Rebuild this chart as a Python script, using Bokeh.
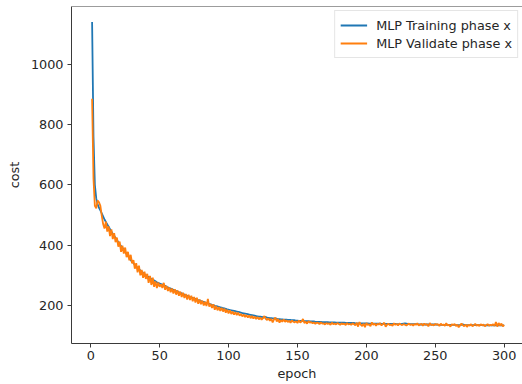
from bokeh.plotting import figure
from bokeh.models import Range1d, FixedTicker, Span, Legend, LegendItem
from bokeh.embed import file_html
from bokeh.resources import INLINE

train_cost = [
    1140, 760, 600, 555, 535, 524, 515, 505, 495, 485,
    477, 469, 461, 453, 445, 438, 431, 424, 417, 410,
    403, 397, 391, 385, 378, 371, 364, 358, 351, 345,
    340, 335, 330, 325, 320, 316, 312, 308, 304, 300,
    297, 294, 291, 288, 285, 283, 280, 277, 275, 273,
    271, 269, 267, 265, 262, 260, 258, 256, 254, 252,
    250, 248, 246, 244, 242, 240, 238, 236, 234, 232,
    230, 228, 226, 225, 223, 222, 220, 218, 217, 215,
    213, 212, 210, 208, 207, 205, 204, 202, 201, 199,
    198, 197, 195, 194, 193, 191, 190, 189, 187, 186,
    185, 184, 183, 182, 181, 180, 179, 178, 176, 175,
    174, 173, 172, 171, 170, 169, 168, 167, 166, 165,
    164, 163, 163, 162, 161, 161, 162, 160, 159, 158,
    158, 157, 157, 156, 156, 155, 155, 154, 154, 153,
    153, 153, 152, 152, 152, 151, 151, 151, 150, 150,
    149, 149, 149, 149, 148, 148, 148, 148, 147, 147,
    147, 147, 146, 146, 146, 146, 146, 145, 145, 145,
    145, 145, 144, 144, 144, 144, 144, 143, 143, 143,
    143, 143, 143, 143, 142, 142, 142, 142, 142, 142,
    142, 141, 141, 141, 141, 141, 141, 141, 141, 141,
    141, 140, 140, 140, 140, 140, 140, 140, 140, 140,
    139, 139, 139, 139, 139, 139, 139, 139, 139, 139,
    139, 138, 138, 138, 138, 139, 140, 141, 140, 139,
    138, 138, 138, 138, 138, 138, 138, 137, 137, 137,
    137, 137, 137, 137, 137, 137, 137, 137, 137, 137,
    137, 136, 136, 136, 136, 136, 136, 136, 136, 136,
    136, 136, 136, 136, 135, 135, 135, 135, 136, 137,
    136, 135, 135, 135, 135, 135, 135, 135, 135, 135,
    135, 135, 135, 135, 134, 134, 134, 134, 134, 134,
    134, 134, 134, 134, 134, 134, 134, 134, 134, 134,
]

valid_cost = [
    885, 620, 530, 522, 548, 542, 530, 498, 470, 455,
    478, 445, 462, 430, 452, 420, 440, 410, 425, 395,
    412, 378, 398, 372, 392, 360, 378, 350, 368, 340,
    350, 322, 340, 310, 332, 300, 318, 292, 312, 288,
    305, 275, 298, 268, 292, 262, 280, 258, 276, 262,
    270, 258, 275, 252, 265, 248, 260, 244, 256, 240,
    254, 236, 250, 232, 246, 228, 242, 225, 238, 220,
    236, 218, 232, 214, 228, 210, 226, 206, 220, 204,
    216, 200, 212, 198, 222, 196, 205, 192, 204, 186,
    198, 184, 195, 182, 192, 180, 190, 176, 186, 174,
    184, 172, 180, 170, 178, 168, 176, 166, 172, 164,
    170, 162, 168, 160, 167, 158, 165, 157, 163, 155,
    162, 154, 160, 153, 158, 165, 156, 152, 157, 149,
    156, 144, 154, 160, 147, 155, 143, 152, 146, 154,
    146, 151, 145, 149, 143, 150, 146, 144, 148, 142,
    150, 144, 147, 155, 142, 146, 140, 148, 143, 145,
    141, 144, 139, 143, 142, 138, 144, 140, 141, 137,
    142, 139, 141, 136, 143, 138, 140, 137, 142, 139,
    136, 141, 138, 140, 135, 142, 137, 139, 136, 141,
    138, 134, 143, 130, 145, 136, 132, 140, 128, 142,
    135, 138, 131, 144, 136, 140, 133, 139, 137, 141,
    134, 138, 143, 130, 136, 140, 135, 137, 133, 141,
    136, 139, 134, 140, 137, 135, 138, 136, 134, 137,
    140, 135, 138, 133, 139, 136, 141, 134, 137, 139,
    133, 140, 136, 138, 131, 142, 135, 137, 134, 139,
    136, 138, 132, 140, 135, 137, 133, 141, 134, 136,
    130, 138, 135, 139, 132, 136, 128, 134, 140, 135,
    131, 137, 129, 136, 133, 138, 131, 135, 139, 133,
    136, 132, 138, 134, 137, 131, 135, 138, 133, 136,
    134, 138, 132, 145, 130, 142, 133, 140, 131, 136,
]

epochs = list(range(1, len(train_cost) + 1))

x_ticks = [0, 50, 100, 150, 200, 250, 300]
y_ticks = [200, 400, 600, 800, 1000]

FONT = "DejaVu Sans"
FS = "12.8px"
AXIS_COLOR = "#3a3a3a"
TEXT_COLOR = "#262626"

p = figure(width=522, height=384, output_backend="svg", toolbar_location=None,
           x_range=Range1d(-13.95, 313.3), y_range=Range1d(74, 1191),
           min_border_left=71, min_border_right=0, min_border_top=6, min_border_bottom=41)

p.background_fill_color = "white"
p.border_fill_color = "white"
p.outline_line_color = None
p.grid.visible = False

l1 = p.line(epochs, train_cost, line_color="#1f77b4", line_width=1.8)
l2 = p.line(epochs, valid_cost, line_color="#ff7f0e", line_width=1.8)

top_spine = Span(location=1191, dimension="width", line_color=AXIS_COLOR, line_width=1)
p.add_layout(top_spine)

for ax in (p.xaxis[0], p.yaxis[0]):
    ax.axis_line_color = AXIS_COLOR
    ax.axis_line_width = 1
    ax.major_tick_line_color = AXIS_COLOR
    ax.major_tick_out = 4
    ax.major_tick_in = 0
    ax.minor_tick_line_color = None
    ax.major_label_text_font = FONT
    ax.major_label_text_font_size = FS
    ax.major_label_text_color = TEXT_COLOR
    ax.axis_label_text_font = FONT
    ax.axis_label_text_font_size = FS
    ax.axis_label_text_font_style = "normal"
    ax.axis_label_text_color = TEXT_COLOR

p.xaxis.ticker = FixedTicker(ticks=x_ticks)
p.yaxis.ticker = FixedTicker(ticks=y_ticks)
p.xaxis.axis_label = "epoch"
p.yaxis.axis_label = "cost"
p.xaxis.major_label_standoff = 3
p.yaxis.major_label_standoff = 4
p.xaxis.axis_label_standoff = 3
p.yaxis.axis_label_standoff = 6

legend = Legend(items=[LegendItem(label="MLP Training phase x", renderers=[l1]),
                       LegendItem(label="MLP Validate phase x", renderers=[l2])],
                location="top_right")
legend.label_text_font = FONT
legend.label_text_font_size = FS
legend.label_text_color = TEXT_COLOR
legend.glyph_width = 27
legend.glyph_height = 18
legend.label_height = 18
legend.label_standoff = 9
legend.spacing = 0
legend.padding = 5
legend.margin = 4
legend.border_line_color = "#cccccc"
legend.border_line_width = 1
legend.background_fill_alpha = 0.8
p.add_layout(legend)

open("out.html", "w").write(file_html(p, INLINE))
